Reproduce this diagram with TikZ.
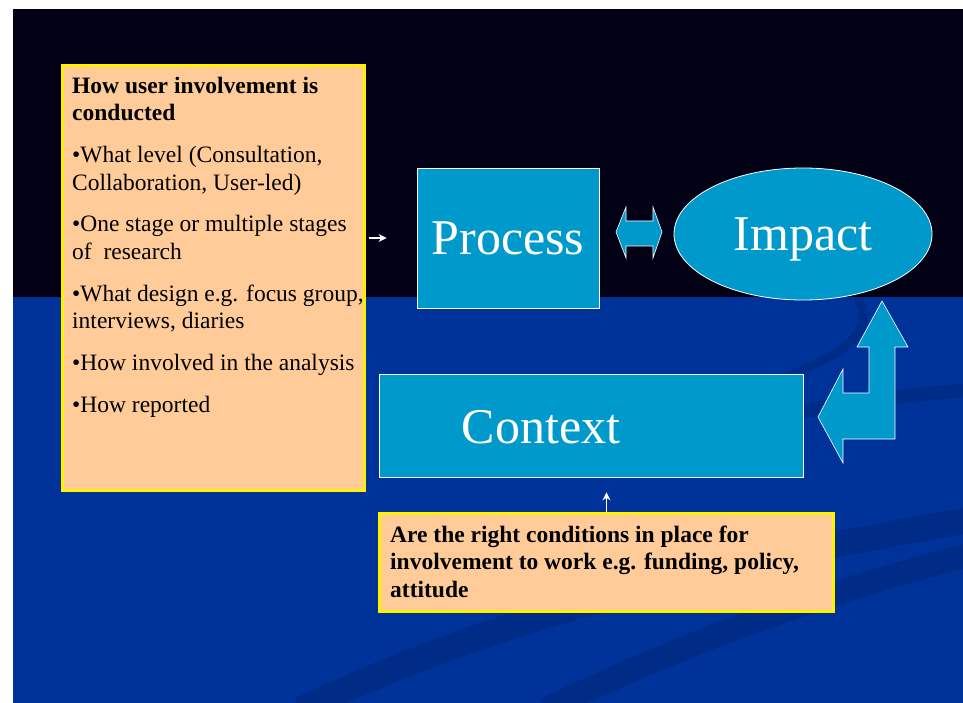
\documentclass[tikz,border=0pt]{standalone}
\usepackage{fontspec}
\setmainfont{Liberation Serif}
\usetikzlibrary{shapes.geometric, arrows.meta, positioning}

\definecolor{slidedark}{RGB}{2,0,20}
\definecolor{slideblue}{RGB}{0,51,153}
\definecolor{swoosh}{RGB}{0,44,136}
\definecolor{peach}{RGB}{255,204,153}
\definecolor{boxcyan}{RGB}{0,153,204}

\begin{document}
\begin{tikzpicture}[x=1pt, y=-1pt,
    notebox/.style={draw=yellow, line width=3pt, fill=peach, inner sep=0pt},
    notetext/.style={anchor=north west, align=left, inner sep=0pt, text=black, font=\fontsize{23.5}{27.7}\selectfont},
    bluebox/.style={draw=white, line width=0.8pt, fill=boxcyan},
    bigword/.style={text=white, text depth=0pt, font=\fontsize{50}{60}\selectfont},
    thinarrow/.style={draw=white, line width=1.2pt, -{Stealth[length=8pt, width=8pt]}},
    fatarrow/.style={draw=white, line width=0.6pt, fill=boxcyan, line join=miter}]

    % Slide background
    \useasboundingbox (0,0) rectangle (963,703);
    \fill[white] (0,0) rectangle (963,703);
    \fill[slidedark] (13,9) rectangle (963,297);
    \fill[slideblue] (13,297) rectangle (963,703);
    \begin{scope}
        \clip (13,297) rectangle (963,703);
        \draw[swoosh, line width=26pt] (300,710) .. controls (470,630) and (650,575) .. (970,520);
        \draw[swoosh, line width=24pt] (545,710) .. controls (690,640) and (830,590) .. (970,555);
        \draw[swoosh, line width=9pt] (857,297) .. controls (880,335) and (850,365) .. (640,425);
        \draw[swoosh, line width=14pt] (800,412) .. controls (860,400) and (920,394) .. (970,390);
    \end{scope}

    % Note on how involvement is run
    \node[notebox, minimum width=302, minimum height=425, anchor=north west] (howbox) at (61,64) {};
    \node[notetext] (howtext) at ([shift={(11,12.5)}]howbox.north west) {%
        \textbf{How user involvement is}\\
        \textbf{conducted}\\[14pt]
        •What level (Consultation,\\
        Collaboration, User-led)\\[14pt]
        •One stage or multiple stages\\
        of\ \ research\\[14pt]
        •What design e.g. focus group,\\
        interviews, diaries\\[14pt]
        •How involved in the analysis\\[14pt]
        •How reported};

    % Process, Impact and Context
    \node[bluebox, bigword, minimum width=182, minimum height=140] (process) at (508,238) {Process};
    \node[bluebox, bigword, ellipse, inner sep=0pt, minimum width=258, minimum height=132] (impact) at (803,234) {Impact};
    \node[bluebox, minimum width=424, minimum height=103] (ctxbox) at (591,425.5) {};
    \node[bigword, inner sep=0pt] (ctxtext) at (541,427) {Context};

    % Block arrows
    \draw[fatarrow] (616,232) -- (626,207) -- (626,221) -- (653,221) -- (653,207) -- (662,232)
        -- (653,258) -- (653,246) -- (626,246) -- (626,258) -- cycle;
    \draw[fatarrow] (882,301) -- (908,347) -- (895,347) -- (895,439) -- (843,439) -- (843,463)
        -- (818,417) -- (843,369) -- (843,393) -- (869,393) -- (869,347) -- (857,347) -- cycle;

    % Note on conditions
    \node[notebox, minimum width=454, minimum height=98, anchor=north west] (condbox) at (378,512) {};
    \node[notetext] (condtext) at ([shift={(12,13.5)}]condbox.north west) {%
        \textbf{Are the right conditions in place for}\\
        \textbf{involvement to work e.g. funding, policy,}\\
        \textbf{attitude}};

    % Small pointers
    \draw[thinarrow, shorten <=3pt, shorten >=30pt] (howbox.east |- process.west) -- (process.west);
    \draw[thinarrow, shorten >=15pt] (condbox.north) -- (condbox.north |- ctxbox.south);

\end{tikzpicture}
\end{document}
